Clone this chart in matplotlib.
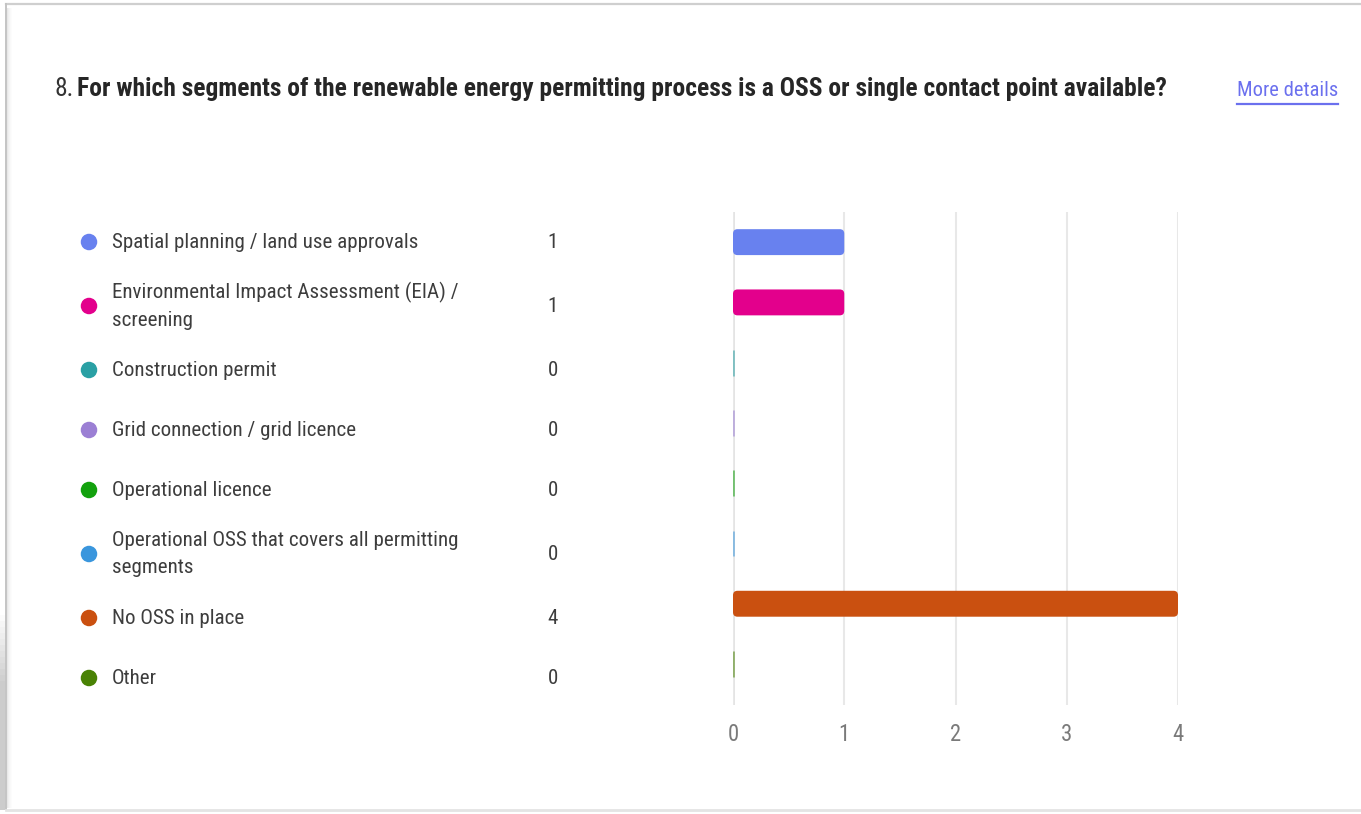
import matplotlib
matplotlib.use("Agg")
import matplotlib.pyplot as plt
from matplotlib.patches import FancyBboxPatch, Rectangle, Ellipse
from matplotlib.lines import Line2D
import numpy as np

plt.rcParams['font.family'] = ['Roboto Condensed', 'DejaVu Sans']

# ---- data -------------------------------------------------------------
question_no = "8."
question = ("For which segments of the renewable energy permitting process "
            "is a OSS or single contact point available?")
categories = [
    "Spatial planning / land use approvals",
    "Environmental Impact Assessment (EIA) /\nscreening",
    "Construction permit",
    "Grid connection / grid licence",
    "Operational licence",
    "Operational OSS that covers all permitting\nsegments",
    "No OSS in place",
    "Other",
]
counts = [1, 1, 0, 0, 0, 0, 4, 0]
colors = ["#6881EF", "#E3008C", "#2AA0A4", "#9B7FD4",
          "#13A10E", "#3A96DD", "#CA5010", "#498205"]
x_ticks = [0, 1, 2, 3, 4]

# ---- canvas -----------------------------------------------------------
W, H = 1361, 814
DPI = 100
fig = plt.figure(figsize=(W / DPI, H / DPI), dpi=DPI)
fig.patch.set_facecolor("white")


def fx(px):
    return px / W


def fy(py):
    return 1 - py / H


# card outline, inner soft edge and the shadow along the lower left side
for i, a in enumerate([0.09, 0.06, 0.04, 0.025, 0.012]):
    fig.patches.append(Rectangle((fx(7 + i), fy(808)), 1 / W, 800 / H,
                                 transform=fig.transFigure,
                                 facecolor="black", alpha=a, lw=0))
n_steps = 12
for k in range(n_steps):
    top = 615 + k * 6
    a = 0.20 * (k + 1) / n_steps
    fig.patches.append(Rectangle((0, fy(top + 6)), 5 / W, 6 / H,
                                 transform=fig.transFigure,
                                 facecolor="black", alpha=a, lw=0))
fig.patches.append(Rectangle((0, fy(810)), 5 / W, (810 - 687) / H,
                             transform=fig.transFigure,
                             facecolor="black", alpha=0.20, lw=0))
fig.add_artist(Line2D([fx(6), 1], [fy(4), fy(4)], color="#cfcfcf", lw=1.6,
                      transform=fig.transFigure))
fig.add_artist(Line2D([fx(6), fx(6)], [fy(4), fy(809)], color="#c4c4c4",
                      lw=1.4, transform=fig.transFigure))
fig.add_artist(Line2D([fx(6), 1], [fy(810), fy(810)], color="#e4e4e4",
                      lw=2.0, transform=fig.transFigure))

renderer = fig.canvas.get_renderer()


def fit_size(text, target_px, weight="normal", base=14.0):
    size = base
    for _ in range(3):
        t = fig.text(0, 0, text, fontsize=size, fontweight=weight)
        w = t.get_window_extent(renderer).width
        t.remove()
        size *= target_px / w
    return size


# ---- title ------------------------------------------------------------
title_size = fit_size(question, 1093, weight="bold")
fig.text(fx(55), fy(89), question_no, fontsize=title_size, color="#333333",
         ha="left", va="center")
fig.text(fx(77), fy(89), question, fontsize=title_size, color="#262626",
         fontweight="bold", ha="left", va="center")

link_size = fit_size("More details", 101)
fig.text(fx(1237), fy(90), "More details", fontsize=link_size,
         color="#6B70EE", ha="left", va="center")
fig.add_artist(Line2D([fx(1237), fx(1338)], [fy(104), fy(104)],
                      color="#6B70EE", lw=1.6, transform=fig.transFigure))

# ---- legend list with counts -----------------------------------------
label_size = fit_size(categories[0], 306)
y = 242 - 30
for name, n, c in zip(categories, counts, colors):
    lines = name.count("\n") + 1
    half = 30 if lines == 1 else 34
    y += half
    fig.patches.append(Ellipse((fx(89), fy(y)), 16.5 / W, 16.5 / H,
                               transform=fig.transFigure, facecolor=c,
                               edgecolor="none"))
    fig.text(fx(112), fy(y), name, fontsize=label_size, color="#3d3d3d",
             ha="left", va="center", linespacing=1.55)
    fig.text(fx(553), fy(y), str(n), fontsize=label_size, color="#3d3d3d",
             ha="center", va="center")
    y += half

# ---- bar chart --------------------------------------------------------
ax = fig.add_axes([fx(733), fy(705), (1178 - 733) / W, (705 - 212) / H])
rows = np.arange(len(categories))
bars = ax.barh(rows, counts, height=0.43, color=colors, zorder=3)
ax.set_xlim(0, 4)
ax.set_ylim(7.68, -0.5)

px_per_x = (1178 - 733) / 4
px_per_y = (705 - 212) / 8.18
r = 4.5 / px_per_x
for patch, c, n in zip(bars, colors, counts):
    if n > 0:
        x0, y0 = patch.get_xy()
        fb = FancyBboxPatch((x0, y0), patch.get_width(), patch.get_height(),
                            boxstyle=f"round,pad=0,rounding_size={r}",
                            mutation_aspect=px_per_x / px_per_y,
                            facecolor=c, edgecolor="none", zorder=3)
        ax.add_patch(fb)
        patch.set_visible(False)
    else:
        # zero counts still leave a faint coloured sliver at the baseline
        patch.set_edgecolor(matplotlib.colors.to_rgba(c, 0.55))
        patch.set_linewidth(2.0)
        patch.set_zorder(4)

ax.set_xticks(x_ticks)
ax.set_xticklabels([str(v) for v in x_ticks])
ax.set_yticks([])
ax.tick_params(axis="x", length=0, pad=13, labelsize=label_size * 1.08,
               labelcolor="#7a7a7a")
ax.grid(axis="x", color="#e8e8e8", lw=1.5, zorder=0)
ax.axvline(0, color="#dcdcdc", lw=1.8, zorder=1)
for s in ax.spines.values():
    s.set_visible(False)
ax.set_facecolor("none")

fig.savefig("out.png", dpi=DPI, facecolor="white")
